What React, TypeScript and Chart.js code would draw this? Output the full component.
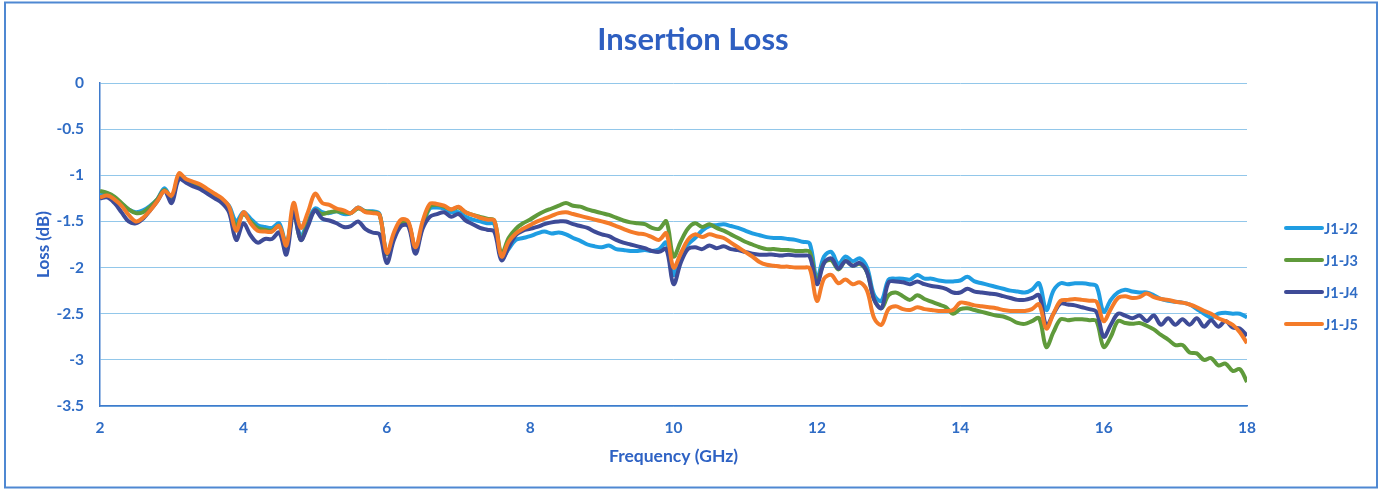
import React, { useEffect, useRef } from "react";
import { Chart, registerables } from "chart.js";

Chart.register(...registerables);

// Frequency grid (GHz), 2.0 .. 18.0 in 0.1 GHz steps
const freqGHz: number[] = Array.from({ length: 161 }, (_, i) => Math.round((2 + i * 0.1) * 10) / 10);

const seriesNames = ["J1-J2", "J1-J3", "J1-J4", "J1-J5"];
const seriesColors = ["#1f9de2", "#5f9a3b", "#3e4b97", "#f47b29"];

const lossJ1J2: number[] = [
  -1.22, -1.2, -1.24, -1.31, -1.37, -1.4, -1.38, -1.33, -1.26, -1.14,
  -1.25, -1.02, -1.06, -1.09, -1.12, -1.16, -1.21, -1.26, -1.33, -1.5,
  -1.4, -1.47, -1.54, -1.56, -1.57, -1.52, -1.75, -1.38, -1.66, -1.5,
  -1.36, -1.4, -1.41, -1.39, -1.42, -1.41, -1.35, -1.39, -1.39, -1.42,
  -1.85, -1.68, -1.52, -1.52, -1.8, -1.55, -1.36, -1.35, -1.36, -1.4,
  -1.4, -1.45, -1.48, -1.5, -1.52, -1.53, -1.9, -1.8, -1.7, -1.68,
  -1.66, -1.63, -1.61, -1.63, -1.62, -1.64, -1.68, -1.71, -1.75, -1.77,
  -1.78, -1.76, -1.8, -1.81, -1.82, -1.82, -1.81, -1.82, -1.8, -1.73,
  -2.08, -1.85, -1.75, -1.68, -1.6, -1.55, -1.54, -1.53, -1.55, -1.57,
  -1.6, -1.63, -1.65, -1.67, -1.68, -1.68, -1.69, -1.7, -1.72, -1.74,
  -2.12, -1.88, -1.83, -1.96, -1.88, -1.93, -1.9, -2.0, -2.3, -2.36,
  -2.13, -2.12, -2.12, -2.13, -2.08, -2.12, -2.12, -2.14, -2.15, -2.15,
  -2.14, -2.1, -2.15, -2.17, -2.19, -2.21, -2.23, -2.25, -2.26, -2.27,
  -2.24, -2.17, -2.46, -2.25, -2.17, -2.18, -2.17, -2.17, -2.18, -2.2,
  -2.48, -2.35, -2.27, -2.24, -2.26, -2.27, -2.27, -2.3, -2.34, -2.36,
  -2.37, -2.38, -2.4, -2.45, -2.5, -2.54, -2.5, -2.49, -2.5, -2.5,
  -2.54,
];

const lossJ1J3: number[] = [
  -1.17, -1.19, -1.23, -1.3, -1.37, -1.41, -1.4, -1.34, -1.26, -1.16,
  -1.25, -1.02, -1.06, -1.09, -1.12, -1.16, -1.21, -1.27, -1.36, -1.55,
  -1.42, -1.5, -1.57, -1.59, -1.6, -1.55, -1.76, -1.4, -1.7, -1.52,
  -1.38, -1.42, -1.4, -1.39, -1.4, -1.41, -1.36, -1.39, -1.4, -1.43,
  -1.85, -1.66, -1.52, -1.52, -1.8, -1.55, -1.34, -1.32, -1.34, -1.37,
  -1.35, -1.4, -1.43, -1.45, -1.47, -1.49, -1.85, -1.68, -1.58, -1.52,
  -1.48, -1.43, -1.39, -1.36, -1.33, -1.3, -1.33, -1.34, -1.37, -1.39,
  -1.41, -1.43, -1.46, -1.49, -1.51, -1.52, -1.53, -1.57, -1.58, -1.5,
  -1.88, -1.72, -1.58, -1.52, -1.56, -1.53, -1.57, -1.6, -1.64, -1.68,
  -1.72, -1.75, -1.78, -1.8, -1.8, -1.81, -1.81, -1.82, -1.82, -1.83,
  -2.15, -1.95, -1.92, -2.02, -1.93, -1.98, -1.96, -2.05, -2.35, -2.44,
  -2.3, -2.27, -2.31, -2.35, -2.3, -2.34, -2.37, -2.4, -2.43, -2.5,
  -2.45, -2.44, -2.46, -2.48, -2.5, -2.52, -2.53, -2.56, -2.6, -2.61,
  -2.58, -2.55, -2.86, -2.7, -2.56, -2.57, -2.56, -2.56, -2.57, -2.58,
  -2.86, -2.75, -2.58, -2.6, -2.61, -2.6, -2.63, -2.67, -2.73, -2.78,
  -2.84, -2.84, -2.92, -2.93, -3.0, -2.98, -3.06, -3.04, -3.12, -3.1,
  -3.24,
];

const lossJ1J4: number[] = [
  -1.25, -1.24, -1.3, -1.4, -1.5, -1.52, -1.47, -1.38, -1.28, -1.17,
  -1.3, -1.04, -1.08, -1.12, -1.15, -1.2, -1.25, -1.3, -1.4, -1.7,
  -1.52, -1.65, -1.73, -1.69, -1.69, -1.62, -1.86, -1.4, -1.7, -1.55,
  -1.38, -1.47, -1.49, -1.52, -1.56, -1.55, -1.5, -1.58, -1.62, -1.64,
  -1.95, -1.7, -1.55, -1.55, -1.85, -1.58, -1.45, -1.42, -1.4, -1.45,
  -1.42, -1.49, -1.53, -1.57, -1.59, -1.61, -1.92, -1.78, -1.65, -1.6,
  -1.58, -1.56, -1.53, -1.51, -1.5, -1.5, -1.53, -1.55, -1.57, -1.61,
  -1.64, -1.66, -1.7, -1.73, -1.75, -1.77, -1.79, -1.82, -1.83, -1.8,
  -2.18, -1.95, -1.8, -1.78, -1.8, -1.76, -1.79, -1.77, -1.8, -1.81,
  -1.83, -1.85, -1.86, -1.86, -1.86, -1.87, -1.86, -1.87, -1.87, -1.88,
  -2.18, -1.95, -1.9, -2.01, -1.93, -1.98, -1.95, -2.05, -2.35, -2.44,
  -2.16, -2.15, -2.16, -2.18, -2.15, -2.18, -2.2, -2.21, -2.23, -2.27,
  -2.27, -2.23, -2.26, -2.27, -2.28, -2.29, -2.31, -2.33, -2.35, -2.35,
  -2.33, -2.3, -2.63, -2.5, -2.39, -2.4, -2.41, -2.43, -2.45, -2.48,
  -2.75, -2.62, -2.5, -2.52, -2.55, -2.52, -2.58, -2.52, -2.62, -2.55,
  -2.62, -2.56, -2.62, -2.55, -2.64, -2.57, -2.64, -2.58, -2.65, -2.66,
  -2.74,
];

const lossJ1J5: number[] = [
  -1.24, -1.22, -1.26, -1.33, -1.43, -1.5, -1.46, -1.38, -1.28, -1.17,
  -1.22, -0.98, -1.04, -1.07, -1.1, -1.15, -1.2, -1.25, -1.34, -1.6,
  -1.4, -1.52, -1.6, -1.61, -1.61, -1.55, -1.76, -1.3, -1.57, -1.4,
  -1.2, -1.3, -1.32, -1.36, -1.38, -1.41, -1.35, -1.4, -1.41, -1.43,
  -1.84, -1.62, -1.48, -1.5, -1.78, -1.5, -1.31, -1.31, -1.33, -1.37,
  -1.34, -1.4, -1.43, -1.46, -1.48, -1.49, -1.88, -1.72, -1.63, -1.58,
  -1.54, -1.5, -1.47, -1.44, -1.41, -1.4, -1.42, -1.44, -1.46, -1.48,
  -1.5, -1.52, -1.55, -1.58, -1.61, -1.63, -1.64, -1.67, -1.7, -1.63,
  -2.0, -1.85, -1.7, -1.64, -1.67, -1.64, -1.66, -1.68, -1.73, -1.78,
  -1.83, -1.88, -1.94, -1.97, -1.98, -1.99, -1.99, -2.0, -2.0, -2.01,
  -2.36, -2.12, -2.08, -2.17, -2.13, -2.18, -2.16, -2.25, -2.55, -2.62,
  -2.45, -2.42, -2.45, -2.46, -2.43, -2.45, -2.46, -2.47, -2.47, -2.46,
  -2.38, -2.39, -2.41, -2.42, -2.43, -2.44, -2.46, -2.47, -2.47, -2.47,
  -2.45, -2.4, -2.66, -2.5, -2.36, -2.35, -2.34, -2.35, -2.36, -2.37,
  -2.58, -2.45, -2.33, -2.31, -2.33, -2.32, -2.28, -2.32, -2.34, -2.35,
  -2.37, -2.38, -2.4, -2.43, -2.47, -2.5, -2.55, -2.58, -2.62, -2.7,
  -2.82,
];

const seriesValues = [lossJ1J2, lossJ1J3, lossJ1J4, lossJ1J5];

const titleText = "Insertion Loss";
const xTitle = "Frequency (GHz)";
const yTitle = "Loss (dB)";

const W = 1382;
const H = 489;
const FONT = "Lato, 'Open Sans', sans-serif";
const TEXT_BLUE = "#2f6cc5";

const decorPlugin = {
  id: "decor",
  afterDraw(chart: any) {
    const ctx = chart.ctx;
    ctx.save();
    // outer frame
    ctx.strokeStyle = "#4f88d2";
    ctx.lineWidth = 2;
    ctx.strokeRect(5, 2.5, 1372, 485);
    // title
    ctx.fillStyle = "#2e5fc1";
    ctx.font = `bold 31px ${FONT}`;
    ctx.textAlign = "center";
    ctx.textBaseline = "middle";
    ctx.fillText(titleText, 693, 40);
    // legend
    const rows = [228, 260, 292, 324];
    ctx.font = `bold 14.5px ${FONT}`;
    ctx.textAlign = "left";
    seriesNames.forEach((name, i) => {
      const y = rows[i];
      ctx.strokeStyle = seriesColors[i];
      ctx.lineWidth = 4;
      ctx.lineCap = "round";
      ctx.beginPath();
      ctx.moveTo(1286, y);
      ctx.lineTo(1322, y);
      ctx.stroke();
      ctx.fillStyle = TEXT_BLUE;
      ctx.fillText(name, 1324, y + 1);
    });
    ctx.restore();
  },
};

export default function App() {
  const ref = useRef<HTMLCanvasElement>(null);
  useEffect(() => {
    if (!ref.current) return;
    const datasets = seriesNames.map((name, i) => ({
      label: name,
      data: freqGHz.map((f, k) => ({ x: f, y: seriesValues[i][k] })),
      borderColor: seriesColors[i],
      backgroundColor: seriesColors[i],
      borderWidth: 4,
      pointRadius: 0,
      tension: 0.35,
      fill: false,
      order: 4 - i,
    }));
    const chart = new Chart(ref.current, {
      type: "line",
      data: { datasets },
      options: {
        responsive: false,
        animation: false,
        devicePixelRatio: 1,
        layout: { padding: { top: 83, right: 135, bottom: 0, left: 0 } },
        plugins: {
          legend: { display: false },
          title: { display: false },
          tooltip: { enabled: false },
        },
        scales: {
          x: {
            type: "linear",
            min: 2,
            max: 18,
            afterFit: (s: any) => { s.height = 83; },
            ticks: {
              stepSize: 2,
              color: TEXT_BLUE,
              font: { family: FONT, size: 15.5, weight: "bold" },
              padding: 13,
            },
            grid: { display: false, drawTicks: false },
            border: { display: true, color: "#3f7bcc", width: 1.5 },
            title: {
              display: true,
              text: xTitle,
              color: "#2e62c4",
              font: { family: FONT, size: 17.5, weight: "bold" },
              padding: { top: 0, bottom: 22 },
            },
          },
          y: {
            type: "linear",
            min: -3.5,
            max: 0,
            afterFit: (s: any) => { s.width = 100; },
            ticks: {
              stepSize: 0.5,
              color: TEXT_BLUE,
              font: { family: FONT, size: 15.5, weight: "bold" },
              padding: 16,
              callback: (v: any) => String(Math.round(v * 10) / 10),
            },
            grid: { display: true, color: "#92c7ea", lineWidth: 1, drawTicks: false },
            border: { display: true, color: "#3f7bcc", width: 1.5 },
            title: {
              display: true,
              text: yTitle,
              color: "#2e62c4",
              font: { family: FONT, size: 17, weight: "bold" },
              padding: { top: 33, bottom: 0 },
            },
          },
        },
      },
      plugins: [decorPlugin],
    });
    return () => chart.destroy();
  }, []);
  return (
    <div style={{ position: "fixed", left: 0, top: 0, width: W, height: H, background: "#fff" }}>
      <canvas ref={ref} width={W} height={H} style={{ display: "block", width: W, height: H }} />
    </div>
  );
}
